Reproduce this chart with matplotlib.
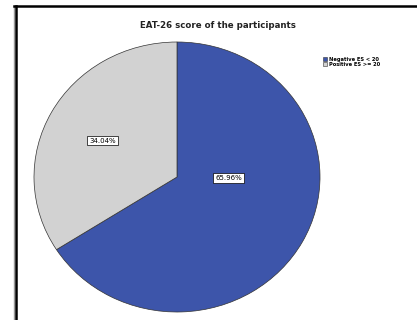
import matplotlib
matplotlib.use("Agg")
import matplotlib.pyplot as plt
from matplotlib.lines import Line2D
from matplotlib.patches import Patch

categories = ["Negative ES < 20", "Positive ES >= 20"]
values = [65.96, 34.04]
colors = ["#3D55AA", "#D2D2D2"]
title = "EAT-26 score of the participants"

W, H = 417, 320
fig = plt.figure(figsize=(W / 100, H / 100), dpi=100)
fig.patch.set_facecolor("white")

def fx(px): return px / W
def fy(py): return 1 - py / H

# frame (left and top border with grey shadow)
fig.add_artist(Line2D([fx(13.5), fx(13.5)], [fy(6), 0], color="#999999", lw=1.0, transform=fig.transFigure))
fig.add_artist(Line2D([fx(15.5), fx(15.5)], [fy(6), 0], color="black", lw=1.8, transform=fig.transFigure))
fig.add_artist(Line2D([fx(14), 1], [fy(6), fy(6)], color="black", lw=1.8, transform=fig.transFigure))

ax = fig.add_axes([fx(34), fy(312), (320 - 34) / W, (312 - 42) / H])
wedges, texts, autotexts = ax.pie(
    values, colors=colors, startangle=90, counterclock=False,
    autopct="%.2f%%", pctdistance=0.58,
    wedgeprops=dict(edgecolor="#333333", linewidth=0.5),
    textprops=dict(fontsize=5, color="black"),
)
for t in autotexts:
    t.set_bbox(dict(facecolor="white", edgecolor="black", linewidth=0.5, pad=1.4))
autotexts[0].set_position((0.36, -0.01))
autotexts[1].set_position((-0.52, 0.27))
ax.set_xlim(-1.0, 1.0)
ax.set_ylim(-1.0, 1.0)
ax.set_aspect("auto")
ax.axis("off")

fig.text(fx(218), fy(25), title, ha="center", va="center", fontsize=6.2,
         fontweight="bold", color="#222222")

handles = [Patch(facecolor=c, edgecolor="#333333", linewidth=0.4) for c in colors]
fig.legend(handles, categories, loc="upper left", bbox_to_anchor=(fx(320), fy(54)),
           frameon=False, handlelength=0.9, handleheight=0.9,
           handletextpad=0.3, labelspacing=0.05, borderpad=0.0,
           prop=dict(size=3.7, weight="bold"))

fig.savefig("out.png", dpi=100)
